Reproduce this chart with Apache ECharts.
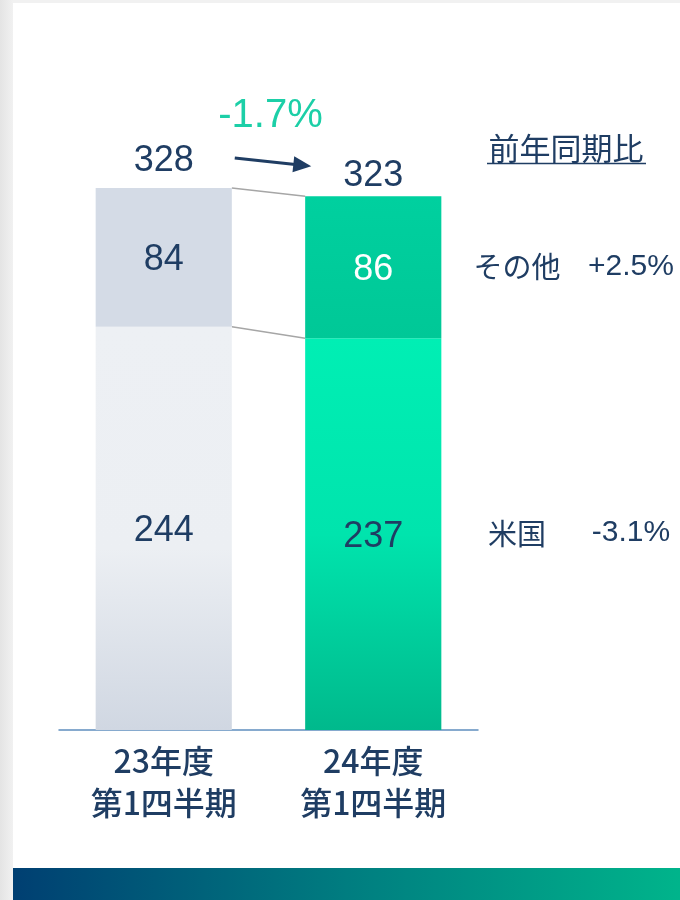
<!DOCTYPE html>
<html>
<head>
<meta charset="utf-8">
<script src="https://cdn.jsdelivr.net/npm/echarts@6/dist/echarts.min.js"></script>
<style>
html,body{margin:0;padding:0;background:#fff;}
#chart{width:680px;height:900px;}
</style>
</head>
<body>
<div id="chart"></div>
<script>
const categories = ['23年度\n第1四半期', '24年度\n第1四半期'];
const usValues = [244, 237];
const otherValues = [84, 86];
const totalChange = '-1.7%';
const headerLabel = '前年同期比';
const segmentNames = ['その他', '米国'];
const segmentChanges = ['+2.5%', '-3.1%'];

const totals = usValues.map((v, i) => v + otherValues[i]);

const NAVY = '#1f3d63';
const NUM_FONT = "'Liberation Sans', Arial, sans-serif";
const JP_FONT = "'Noto Sans CJK JP', sans-serif";

function lg(stops) {
  return new echarts.graphic.LinearGradient(0, 0, 0, 1, stops.map(s => ({offset: s[0], color: s[1]})));
}

const usColors = [
  lg([[0, '#edf0f4'], [0.55, '#eceff3'], [1, '#d0d7e2']]),
  lg([[0, '#00efb4'], [0.5, '#00e4ad'], [1, '#00b98c']])
];
const otherColors = [
  '#d4dbe6',
  lg([[0, '#00d09f'], [1, '#00c897']])
];
const segLabelColors = {us: [NAVY, NAVY], other: [NAVY, '#ffffff']};

const chart = echarts.init(document.getElementById('chart'), null, {renderer: 'canvas'});

const option = {
  backgroundColor: '#ffffff',
  animation: false,
  grid: {left: 59, right: 202, top: 69, bottom: 170},
  xAxis: {
    type: 'category',
    data: categories,
    axisTick: {show: false},
    axisLine: {lineStyle: {color: '#5f8fbf', width: 1.5}},
    axisLabel: {
      color: NAVY, fontSize: 32, lineHeight: 42, margin: 10,
      fontFamily: JP_FONT, fontWeight: 500
    }
  },
  yAxis: {type: 'value', min: 0, max: 400, show: false, splitLine: {show: false}},
  series: [
    {
      name: '米国', type: 'bar', stack: 'total', barWidth: '65%',
      data: usValues.map((v, i) => ({
        value: v,
        itemStyle: {color: usColors[i]},
        label: {color: segLabelColors.us[i]}
      })),
      label: {show: true, position: 'inside', offset: [0, 3], fontSize: 36, fontFamily: NUM_FONT}
    },
    {
      name: 'その他', type: 'bar', stack: 'total', barWidth: '65%',
      data: otherValues.map((v, i) => ({
        value: v,
        itemStyle: {color: otherColors[i]},
        label: {color: segLabelColors.other[i]}
      })),
      label: {show: true, position: 'inside', offset: [0, 3], fontSize: 36, fontFamily: NUM_FONT}
    }
  ]
};
chart.setOption(option);

function px(i, v) { return chart.convertToPixel({xAxisIndex: 0, yAxisIndex: 0}, [i, v]); }

const c0 = px(0, 0), c1 = px(1, 0);
const band = c1[0] - c0[0];
const half = band * 0.65 / 2;
const topPts = totals.map((t, i) => px(i, t));
const midPts = usValues.map((u, i) => px(i, u));
const base = c0[1];

const g = [];
// page decoration
g.push({type: 'rect', z: -10, shape: {x: 0, y: 0, width: 13, height: 900},
  style: {fill: new echarts.graphic.LinearGradient(0, 0, 1, 0, [{offset: 0, color: '#e4e4e4'}, {offset: 1, color: '#f1f1f1'}])}, silent: true});
g.push({type: 'rect', z: -10, shape: {x: 13, y: 0, width: 667, height: 3}, style: {fill: '#f1f1f1'}, silent: true});
g.push({type: 'rect', z: -10, shape: {x: 13, y: 868, width: 667, height: 32},
  style: {fill: new echarts.graphic.LinearGradient(0, 0, 1, 0, [{offset: 0, color: '#003f72'}, {offset: 0.5, color: '#007d80'}, {offset: 1, color: '#00b48b'}])}, silent: true});

// connectors
g.push({type: 'line', shape: {x1: topPts[0][0] + half, y1: topPts[0][1], x2: topPts[1][0] - half, y2: topPts[1][1]},
  style: {stroke: '#a6a6a6', lineWidth: 1.5}});
g.push({type: 'line', shape: {x1: midPts[0][0] + half, y1: midPts[0][1], x2: midPts[1][0] - half, y2: midPts[1][1]},
  style: {stroke: '#a6a6a6', lineWidth: 1.5}});

// total labels
const totalOffsets = [27, 20];
totals.forEach((t, i) => {
  g.push({type: 'text', style: {text: String(t), x: topPts[i][0], y: topPts[i][1] - totalOffsets[i],
    textAlign: 'center', textVerticalAlign: 'middle', fill: NAVY, font: "36px " + NUM_FONT}});
});

// arrow
const ax1 = topPts[0][0] + 71, ay1 = topPts[0][1] - 30;
const ax2 = topPts[1][0] - 62, ay2 = topPts[1][1] - 30;
const dx = ax2 - ax1, dy = ay2 - ay1, L = Math.hypot(dx, dy);
const ux = dx / L, uy = dy / L;
const hl = 18, hw = 8;
const bx = ax2 - ux * hl, by = ay2 - uy * hl;
g.push({type: 'line', shape: {x1: ax1, y1: ay1, x2: bx + ux * 2, y2: by + uy * 2}, style: {stroke: NAVY, lineWidth: 3}});
g.push({type: 'polygon', shape: {points: [[ax2, ay2], [bx - uy * hw, by + ux * hw], [bx + uy * hw, by - ux * hw]]}, style: {fill: NAVY}});

// change label
g.push({type: 'text', style: {text: totalChange, x: (topPts[0][0] + topPts[1][0]) / 2 + 2, y: 116,
  textAlign: 'center', textVerticalAlign: 'middle', fill: '#1ccfa7', font: "40px " + NUM_FONT}});

// header
g.push({type: 'text', style: {text: headerLabel, x: 566, y: 148, textAlign: 'center', textVerticalAlign: 'middle',
  fill: NAVY, font: "31px " + JP_FONT}});
g.push({type: 'line', shape: {x1: 487, y1: 163.5, x2: 646, y2: 163.5}, style: {stroke: NAVY, lineWidth: 1.5}});

// segment annotations aligned to the second bar's segments
const segMids = [
  (topPts[1][1] + midPts[1][1]) / 2,
  (midPts[1][1] + base) / 2
];
segmentNames.forEach((n, i) => {
  g.push({type: 'text', style: {text: n, x: 517, y: segMids[i], textAlign: 'center', textVerticalAlign: 'middle',
    fill: NAVY, font: "29px " + JP_FONT}});
  g.push({type: 'text', style: {text: segmentChanges[i], x: 631, y: segMids[i] - 1, textAlign: 'center', textVerticalAlign: 'middle',
    fill: NAVY, font: "30px " + NUM_FONT}});
});

chart.setOption({graphic: {elements: g}});
</script>
</body>
</html>
